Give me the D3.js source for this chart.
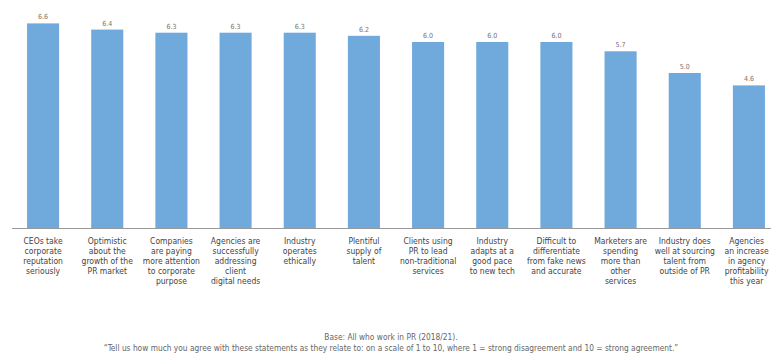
<!DOCTYPE html>
<html><head><meta charset="utf-8">
<script src="https://cdn.jsdelivr.net/npm/d3@7"></script>
<style>
body{margin:0;background:#fff;}
svg{display:block;}
text{font-family:"Liberation Sans Narrow","DejaVu Sans Condensed","Arial Narrow",sans-serif;font-stretch:condensed;}
</style></head>
<body><svg id="c" width="771" height="360"></svg>
<script>
const categories = [
  "CEOs take\ncorporate\nreputation\nseriously",
  "Optimistic\nabout the\ngrowth of the\nPR market",
  "Companies\nare paying\nmore attention\nto corporate\npurpose",
  "Agencies are\nsuccessfully\naddressing\nclient\ndigital needs",
  "Industry\noperates\nethically",
  "Plentiful\nsupply of\ntalent",
  "Clients using\nPR to lead\nnon-traditional\nservices",
  "Industry\nadapts at a\ngood pace\nto new tech",
  "Difficult to\ndifferentiate\nfrom fake news\nand accurate",
  "Marketers are\nspending\nmore than\nother\nservices",
  "Industry does\nwell at sourcing\ntalent from\noutside of PR",
  "Agencies\nan increase\nin agency\nprofitability\nthis year"
];
const values = [6.6, 6.4, 6.3, 6.3, 6.3, 6.2, 6.0, 6.0, 6.0, 5.7, 5.0, 4.6];
const footnotes = [
  "Base: All who work in PR (2018/21).",
  "\u201CTell us how much you agree with these statements as they relate to: on a scale of 1 to 10, where 1 = strong disagreement and 10 = strong agreement.\u201D"
];

const svg = d3.select("#c");
const baseY = 228;
const x = d3.scaleBand().domain(d3.range(categories.length)).range([11, 781]).paddingInner(0.5).paddingOuter(0.25);
const y = d3.scaleLinear().domain([0, 7]).range([baseY, 11]);

svg.append("g").selectAll("rect").data(values).join("rect")
  .attr("x", (d,i) => x(i))
  .attr("y", d => y(d))
  .attr("width", x.bandwidth())
  .attr("height", d => y(0) - y(d))
  .attr("fill", "#70aadd");

svg.append("line").attr("x1", 12).attr("x2", 771).attr("y1", baseY + 0.5).attr("y2", baseY + 0.5)
  .attr("stroke", "#9a9a9a").attr("stroke-width", 1);

svg.append("g").selectAll("text").data(values).join("text")
  .attr("x", (d,i) => x(i) + x.bandwidth()/2)
  .attr("y", d => y(d) - 4)
  .attr("text-anchor", "middle")
  .attr("font-size", 7)
  .attr("fill", "#7a746c")
  .text(d => d.toFixed(1));

const lab = svg.append("g").selectAll("text").data(categories).join("text")
  .attr("x", (d,i) => x(i) + x.bandwidth()/2)
  .attr("y", 244)
  .attr("text-anchor", "middle")
  .attr("font-size", 8.5)
  .attr("fill", "#444");
lab.each(function(d){
  const t = d3.select(this);
  d.split("\n").forEach((line, k) => {
    t.append("tspan").attr("x", t.attr("x")).attr("dy", k === 0 ? 0 : 10).text(line);
  });
});
// keep labels inside the right edge
lab.each(function(){
  const b = this.getBBox();
  const over = b.x + b.width - 769;
  if (over > 0) {
    d3.select(this).selectAll("tspan").attr("x", function(){ return +d3.select(this).attr("x") - over; });
  }
});

svg.append("g").selectAll("text").data(footnotes).join("text")
  .attr("x", 391)
  .attr("y", (d,i) => 340 + i*11)
  .attr("text-anchor", "middle")
  .attr("font-size", 8.3)
  .attr("fill", "#666")
  .text(d => d);
</script></body></html>
